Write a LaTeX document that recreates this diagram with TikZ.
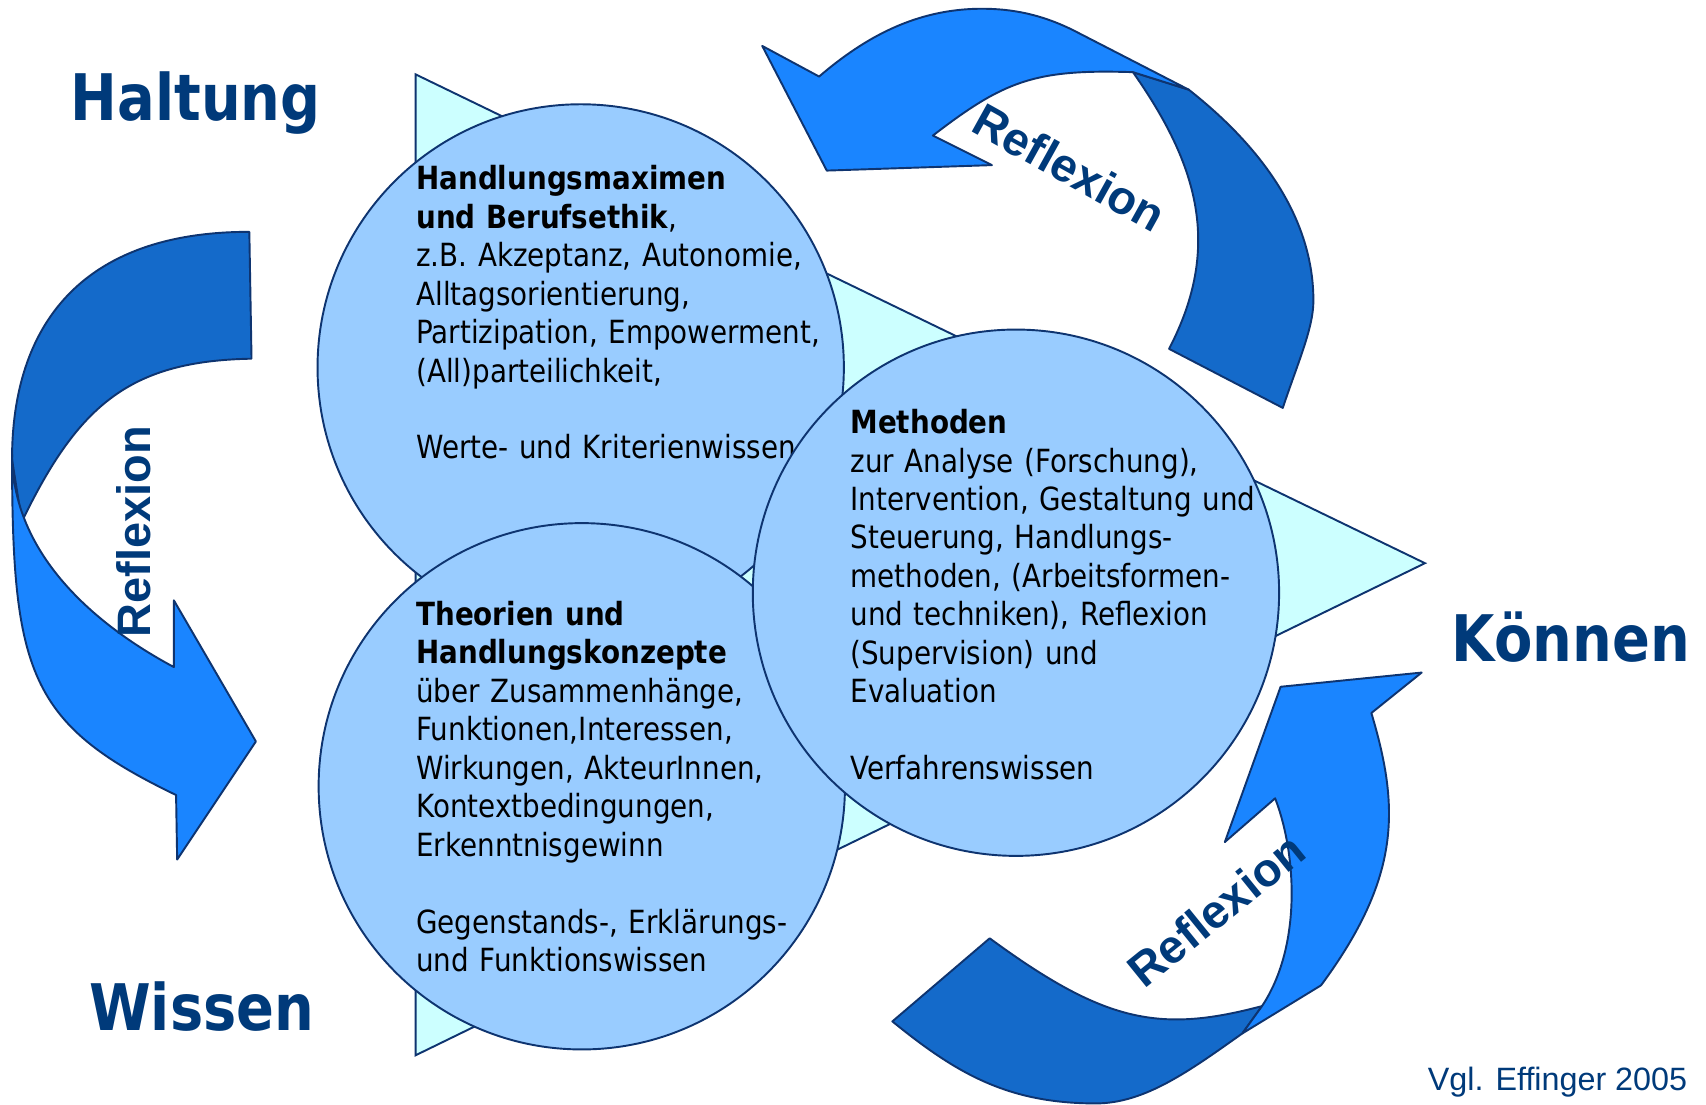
\documentclass[tikz,border=0pt]{standalone}
\usepackage{fontspec}
\setmainfont{DejaVu Sans}[FakeStretch=0.87]
\newfontfamily\arialfont{Liberation Sans}

\definecolor{titleblue}{RGB}{0,58,122}
\definecolor{linenavy}{RGB}{14,52,112}
\definecolor{bubblefill}{RGB}{153,204,255}
\definecolor{wedgefill}{RGB}{204,255,255}
\definecolor{arrowlight}{RGB}{26,133,255}
\definecolor{arrowdark}{RGB}{20,106,202}

\tikzset{
  bubble/.style={shape=circle,draw=linenavy,fill=bubblefill,line width=0.5pt,minimum size=4.81cm,inner sep=0pt},
  bubbletext/.style={anchor=base west,align=left,inner sep=0pt,font=\fontsize{8.3}{10}\selectfont},
  corner/.style={anchor=base west,inner sep=0pt,text=titleblue,font=\fontsize{16.7}{20}\selectfont\bfseries},
  refltext/.style={inner sep=0pt,text=titleblue,font=\arialfont\fontsize{12.2}{14}\selectfont\bfseries},
  wedge/.style={draw=linenavy,fill=wedgefill,line width=0.5pt},
  backband/.style={draw=linenavy,fill=arrowdark,line width=0.5pt,line join=round},
  frontband/.style={draw=linenavy,fill=arrowlight,line width=0.5pt,line join=round}
}

\begin{document}
\begin{tikzpicture}[x=0.01cm,y=-0.01cm]
    \useasboundingbox[fill=white] (0,0) rectangle (1560,1010);

    % big wedge behind the circles
    \draw[wedge] (380,68) -- (1303,515) -- (380,965) -- cycle;

    % the three circles with their texts
    \node[bubble] (ethik) at (531,336) {};
    \node[bubbletext,text width=3.85cm] (ethiktxt) at (380,173.5) {\textbf{Handlungsmaximen}\\
        \textbf{und Berufsethik},\\
        z.B. Akzeptanz, Autonomie,\\
        Alltagsorientierung,\\
        Partizipation, Empowerment,\\
        (All)parteilichkeit,\\[10pt]
        Werte- und Kriterienwissen};
    \node[bubble] (theorien) at (532,719) {};
    \node[bubbletext,text width=3.6cm] (theorientxt) at (380,572) {\textbf{Theorien und}\\
        \textbf{Handlungskonzepte}\\
        über Zusammenhänge,\\
        Funktionen,Interessen,\\
        Wirkungen, AkteurInnen,\\
        Kontextbedingungen,\\
        Erkenntnisgewinn\\[10pt]
        Gegenstands-, Erklärungs-\\
        und Funktionswissen};
    \node[bubble] (methoden) at (929,542) {};
    \node[bubbletext,text width=3.85cm] (methodentxt) at (777,396.5) {\textbf{Methoden}\\
        zur Analyse (Forschung),\\
        Intervention, Gestaltung und\\
        Steuerung, Handlungs-\\
        methoden, (Arbeitsformen-\\
        und techniken), Reflexion\\
        (Supervision) und\\
        Evaluation\\[10pt]
        Verfahrenswissen};

    % left loop: Haltung -> Wissen
    \draw[backband] (228,212) .. controls (72,212) and (11,300) .. (11,420)
        -- (20,477) .. controls (72,369) and (120,330) .. (230,328) -- cycle;
    \draw[frontband] (11,415) .. controls (11,615) and (26,662) .. (161,727)
        -- (162,786) -- (234,678) -- (159,549) -- (159,610)
        .. controls (101,579) and (11,515) .. (11,415) -- cycle;

    % top loop: Koennen -> Haltung
    \draw[backband] (1087,82) .. controls (1148,130) and (1201,195) .. (1201,275)
        .. controls (1201,300) and (1187,331) .. (1173,373)
        -- (1069,319) .. controls (1118,225) and (1095,150) .. (1036,66) -- cycle;
    \draw[frontband] (697,42) -- (749,70) .. controls (791,34) and (838,8) .. (898,8)
        .. controls (925,8) and (953,13) .. (984,29) -- (1087,82)
        -- (1036,66) .. controls (946,63) and (918,74) .. (853,124)
        -- (907,151) -- (756,156) -- cycle;

    % bottom loop: Wissen -> Koennen
    \draw[backband] (905,858) .. controls (1010,935) and (1060,945) .. (1154,920)
        -- (1136,945) .. controls (1088,979) and (1047,1009) .. (1002,1009)
        .. controls (922,1009) and (875,982) .. (816,934) -- cycle;
    \draw[frontband] (1120,770) -- (1171,628) -- (1300,615)
        -- (1254,652) .. controls (1280,739) and (1281,802) .. (1208,901)
        -- (1136,945) -- (1154,920) .. controls (1190,866) and (1186,782) .. (1166,730) -- cycle;

    \node[refltext,rotate=90] (reflleft) at (122,486) {Reflexion};
    \node[refltext,rotate=-29] (refltop) at (978,153) {Reflexion};
    \node[refltext,rotate=39] (reflbottom) at (1112,832) {Reflexion};

    % corner titles
    \node[corner] (haltung) at (64,110) {Haltung};
    \node[corner] (wissen) at (81,942) {Wissen};
    \node[corner] (koennen) at (1327,605) {Können};

    \node[anchor=base west,inner sep=0pt,text=titleblue,font=\arialfont\fontsize{8.4}{10}\selectfont] (quelle) at (1305,997) {Vgl. Effinger 2005};
\end{tikzpicture}
\end{document}
